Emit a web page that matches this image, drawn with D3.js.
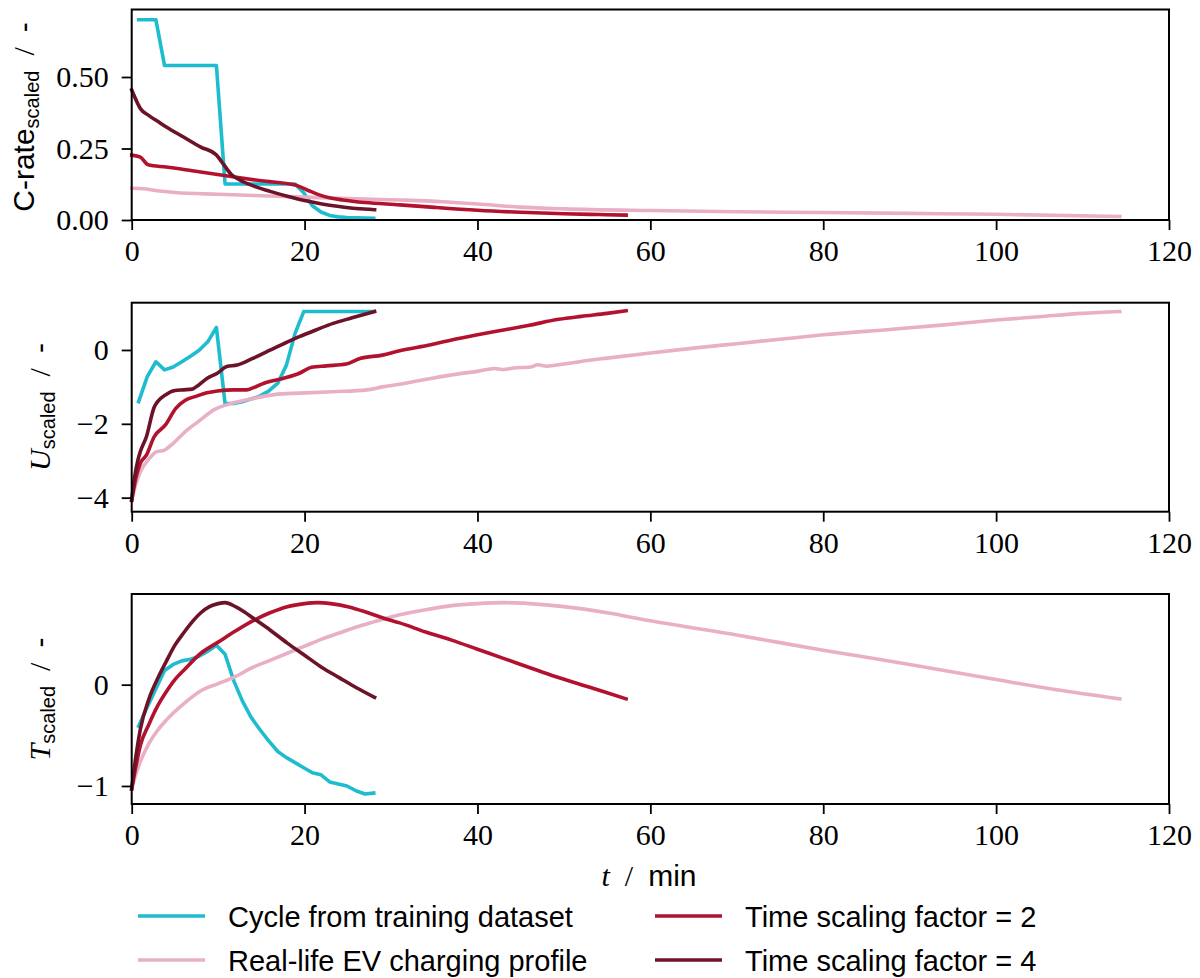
<!DOCTYPE html>
<html>
<head>
<meta charset="utf-8">
<script src="https://cdn.jsdelivr.net/npm/d3@7"></script>
<style>
  body { margin: 0; background: #fff; }
  svg { display: block; }
  .tick line { stroke: #000; stroke-width: 1.8; }
  .sans { font-family: "Liberation Sans", Arial, sans-serif; }
  .serif { font-family: "Liberation Serif", "DejaVu Serif", serif; }
  text { white-space: pre; }
</style>
</head>
<body>
<svg id="chart"></svg>
<script>
// tick labels
const xTicks = [0, 20, 40, 60, 80, 100, 120];
const crateTicks = [0, 0.25, 0.5];
const voltTicks = [-4, -2, 0];
const tempTicks = [-1, 0];

// cycle from training dataset (minutes)
const cycleTime = [0.8, 1.8, 2.8, 3.8, 4.8, 5.8, 6.8, 7.8, 8.8, 9.8, 10.8, 11.8, 12.8, 13.8,
  14.8, 15.8, 16.9, 17.9, 18.9, 19.9, 20.9, 21.9, 22.9, 23.9, 24.9, 26.0, 27.0, 28.0];
const cycleCrate = [0.70, 0.70, 0.70, 0.54, 0.54, 0.54, 0.54, 0.54, 0.54, 0.54, 0.126, 0.126, 0.126, 0.126,
  0.126, 0.126, 0.126, 0.126, 0.126, 0.095, 0.05, 0.028, 0.016, 0.011, 0.009, 0.008, 0.007, 0.006];
const cycleVolt = [-1.40, -0.72, -0.32, -0.54, -0.46, -0.32, -0.17, -0.01, 0.22, 0.61, -1.45, -1.45, -1.40, -1.33,
  -1.25, -1.12, -0.90, -0.41, 0.45, 1.04, 1.04, 1.04, 1.04, 1.04, 1.04, 1.04, 1.04, 1.04];
const cycleTemp = [-0.41, -0.22, -0.04, 0.14, 0.20, 0.235, 0.25, 0.28, 0.33, 0.39, 0.30, 0.04, -0.16, -0.32,
  -0.44, -0.55, -0.66, -0.72, -0.77, -0.82, -0.87, -0.89, -0.96, -0.98, -1.00, -1.05, -1.08, -1.07];

// real-life EV charging profile
const evCrateTime = [0, 1.5, 3, 5, 10, 15, 20, 25, 31, 36, 40, 45, 50, 60, 70, 80, 90, 100, 114.3];
const evCrate = [0.111, 0.109, 0.102, 0.096, 0.09, 0.085, 0.08, 0.075, 0.07, 0.064, 0.056, 0.045, 0.039, 0.033, 0.029, 0.026, 0.023, 0.02, 0.012];
const evVoltTime = [0, 0.4, 1, 1.9, 2.85, 3.8, 4.8, 6.2, 7.7, 9.6, 11.5, 13.5, 15.4, 17.3, 19.4, 23.3, 27.2, 29, 31,
  34.6, 38, 40, 42, 43, 44.5, 46, 47, 48, 50, 52, 55, 60, 65, 70, 75, 80, 88, 94, 100, 105, 110, 114.3];
const evVolt = [-4.07, -3.70, -3.30, -2.98, -2.76, -2.71, -2.53, -2.21, -1.94, -1.61, -1.45, -1.34, -1.25, -1.19, -1.17, -1.13, -1.08, -1.00, -0.93,
  -0.77, -0.64, -0.58, -0.50, -0.53, -0.48, -0.47, -0.40, -0.44, -0.38, -0.31, -0.22, -0.08, 0.05, 0.17, 0.29, 0.41, 0.56, 0.68, 0.81, 0.90, 0.99, 1.04];
const evTempTime = [0, 0.5, 1, 2, 3, 4, 6, 8, 10, 12, 14, 16, 18, 20, 22, 24, 26, 28, 31, 34, 37, 40, 43, 46, 50, 55, 60, 70, 80, 90, 100, 107, 114.3];
const evTemp = [-1.03, -0.88, -0.76, -0.58, -0.45, -0.35, -0.19, -0.06, 0.01, 0.08, 0.17, 0.24, 0.31, 0.38, 0.45, 0.51, 0.57, 0.62, 0.69, 0.74, 0.78, 0.80, 0.81, 0.80, 0.77, 0.71, 0.63, 0.49, 0.34, 0.20, 0.05, -0.05, -0.14];

// time scaling factor = 2
const f2CrateTime = [0, 1, 1.9, 4, 7, 11.7, 15, 18.9, 20.3, 21.7, 23, 24.4, 27, 31, 35, 40, 45, 50, 54, 57.2];
const f2Crate = [0.227, 0.22, 0.193, 0.185, 0.172, 0.151, 0.137, 0.122, 0.105, 0.088, 0.077, 0.07, 0.061, 0.053, 0.044, 0.034, 0.027, 0.022, 0.019, 0.017];
const f2VoltTime = [0, 0.5, 1, 1.7, 2.6, 3.9, 5.1, 6.2, 7.5, 8.7, 9.9, 11.8, 13.3, 14.1, 15.3, 17.5, 19.4, 20.8, 22.5, 24.8, 26.4, 29, 31,
  34.6, 37, 40, 43.5, 46, 49.4, 52, 55, 57.2];
const f2Volt = [-4.07, -3.45, -3.07, -2.85, -2.35, -2.03, -1.58, -1.36, -1.25, -1.16, -1.11, -1.08, -1.08, -1.02, -0.90, -0.77, -0.63, -0.47, -0.43, -0.38, -0.23, -0.14, -0.02,
  0.14, 0.27, 0.41, 0.56, 0.67, 0.83, 0.91, 0.99, 1.06];
const f2TempTime = [0, 0.5, 1, 2, 3, 4, 5, 6, 8, 10, 12, 14, 16, 18, 20, 21.5, 23, 25, 27, 29, 31, 34, 37, 40, 43, 46, 49, 52, 55, 57.2];
const f2Temp = [-1.03, -0.80, -0.60, -0.39, -0.21, -0.07, 0.05, 0.14, 0.31, 0.42, 0.53, 0.63, 0.71, 0.77, 0.80, 0.81, 0.80, 0.77, 0.72, 0.66, 0.61, 0.52, 0.44, 0.35, 0.26, 0.17, 0.08, 0.0, -0.08, -0.14];

// time scaling factor = 4
const f4CrateTime = [0, 0.5, 1, 2, 3, 4, 6, 8, 9.8, 10.5, 11.5, 12.5, 14, 16, 18, 20, 22, 24, 26, 28.1];
const f4Crate = [0.455, 0.42, 0.39, 0.365, 0.345, 0.325, 0.29, 0.255, 0.227, 0.20, 0.16, 0.14, 0.12, 0.10, 0.083, 0.068, 0.056, 0.047, 0.040, 0.036];
const f4VoltTime = [0, 0.3, 0.7, 1, 1.7, 2.6, 3, 3.9, 5, 6, 7, 7.5, 8.7, 9.9, 11, 12.2, 14, 15.6, 17.5, 19.4, 21.3, 23.3, 25.5, 28.1];
const f4Volt = [-4.07, -3.5, -3.0, -2.75, -2.35, -1.55, -1.40, -1.22, -1.10, -1.08, -1.06, -0.99, -0.77, -0.63, -0.45, -0.41, -0.23, -0.05, 0.16, 0.36, 0.54, 0.72, 0.87, 1.04];
const f4TempTime = [0, 0.5, 1, 2, 3, 4, 5, 6, 7, 8, 9, 10, 10.8, 12, 13, 14, 16, 18, 20, 22, 24, 26, 28.1];
const f4Temp = [-1.03, -0.70, -0.44, -0.14, 0.06, 0.23, 0.39, 0.51, 0.62, 0.71, 0.77, 0.80, 0.81, 0.77, 0.72, 0.66, 0.54, 0.41, 0.29, 0.17, 0.07, -0.03, -0.125];

const seriesNames = ["Cycle from training dataset", "Real-life EV charging profile", "Time scaling factor = 2", "Time scaling factor = 4"];
const seriesColors = ["#1dbdcf", "#e8afc5", "#b2122e", "#6d1327"];

const W = 1200, H = 978;
const serifFont = '"Liberation Serif", "DejaVu Serif", serif';
const svg = d3.select('#chart').attr('width', W).attr('height', H);

const x = d3.scaleLinear().domain([0, 120]).range([131.7, 1169]);

const zip = (ts, vs) => ts.map((t, i) => [t, vs[i]]);

const panels = [
  { top: 9.5, bottom: 220, domain: [0, 0.736], ticks: crateTicks, fmt: d3.format('.2f'),
    lines: [zip(cycleTime, cycleCrate), zip(evCrateTime, evCrate), zip(f2CrateTime, f2Crate), zip(f4CrateTime, f4Crate)] },
  { top: 302.7, bottom: 511.7, domain: [-4.38, 1.28], ticks: voltTicks, fmt: d3.format('d'),
    lines: [zip(cycleTime, cycleVolt), zip(evVoltTime, evVolt), zip(f2VoltTime, f2Volt), zip(f4VoltTime, f4Volt)] },
  { top: 594, bottom: 804, domain: [-1.178, 0.895], ticks: tempTicks, fmt: d3.format('d'),
    lines: [zip(cycleTime, cycleTemp), zip(evTempTime, evTemp), zip(f2TempTime, f2Temp), zip(f4TempTime, f4Temp)] }
];

panels.forEach((p, pi) => {
  const y = d3.scaleLinear().domain(p.domain).range([p.bottom, p.top]);
  const g = svg.append('g');

  p.lines.forEach((pts, si) => {
    const line = d3.line()
      .x(d => x(d[0]))
      .y(d => y(d[1]))
      .curve(si === 0 ? d3.curveLinear : d3.curveMonotoneX);
    g.append('path')
      .datum(pts)
      .attr('d', line)
      .attr('fill', 'none')
      .attr('stroke', seriesColors[si])
      .attr('stroke-width', 3.6)
      .attr('stroke-linejoin', 'round')
      .attr('stroke-linecap', 'square');
  });

  // frame
  g.append('rect')
    .attr('x', x(0)).attr('y', p.top)
    .attr('width', x(120) - x(0)).attr('height', p.bottom - p.top)
    .attr('fill', 'none').attr('stroke', '#000').attr('stroke-width', 2);

  const xa = g.append('g')
    .attr('transform', `translate(0,${p.bottom})`)
    .call(d3.axisBottom(x).tickValues(xTicks).tickSize(10).tickPadding(10).tickFormat(d3.format('d')))
    .attr('font-family', serifFont)
    .attr('font-size', 30);
  xa.select('.domain').remove();
  xa.selectAll('text').attr('dy', '0.71em');

  const ya = g.append('g')
    .attr('transform', `translate(${x(0)},0)`)
    .call(d3.axisLeft(y).tickValues(p.ticks).tickSize(10).tickPadding(13).tickFormat(p.fmt))
    .attr('font-family', serifFont)
    .attr('font-size', 30);
  ya.select('.domain').remove();
});

// y labels
function ylabel(cx, cy, main, italic) {
  const t = svg.append('text')
    .attr('transform', `translate(${cx},${cy}) rotate(-90)`)
    .attr('text-anchor', 'middle')
    .attr('font-size', 30);
  t.append('tspan').attr('class', italic ? 'serif' : 'sans')
    .attr('font-style', italic ? 'italic' : 'normal').text(main);
  t.append('tspan').attr('class', 'sans').attr('font-size', 20).attr('dy', 5).text('scaled');
  t.append('tspan').attr('class', 'serif').attr('dy', -5).text('  /  ');
  t.append('tspan').attr('class', 'sans').text('-');
}
ylabel(33.5, 117, 'C-rate', false);
ylabel(50, 407, 'U', true);
ylabel(50, 699, 'T', true);

// x label
const xl = svg.append('text')
  .attr('x', 649).attr('y', 886)
  .attr('text-anchor', 'middle')
  .attr('font-size', 30);
xl.append('tspan').attr('class', 'serif').attr('font-style', 'italic').text('t');
xl.append('tspan').attr('class', 'serif').text('  /  ');
xl.append('tspan').attr('class', 'sans').text('min');

// legend, two columns
const legendPos = [[138, 916], [138, 960], [655, 916], [655, 960]];
seriesNames.forEach((name, i) => {
  const [lx, ly] = legendPos[i];
  svg.append('line')
    .attr('x1', lx).attr('x2', lx + 67)
    .attr('y1', ly).attr('y2', ly)
    .attr('stroke', seriesColors[i]).attr('stroke-width', 3.6);
  svg.append('text')
    .attr('class', 'sans')
    .attr('x', lx + 90).attr('y', ly + 11)
    .attr('font-size', 29)
    .text(name);
});
</script>
</body>
</html>
